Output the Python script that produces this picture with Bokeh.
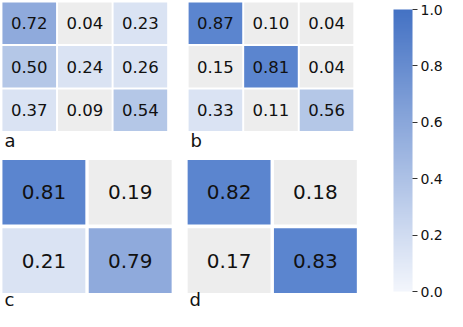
from bokeh.plotting import figure
from bokeh.models import (ColumnDataSource, Range1d, ColorBar, LinearColorMapper,
                          FixedTicker, PrintfTickFormatter)
from bokeh.embed import file_html
from bokeh.resources import INLINE

# ---- data ----
panel_names = ["a", "b", "c", "d"]
a_vals = [[0.72, 0.04, 0.23],
          [0.50, 0.24, 0.26],
          [0.37, 0.09, 0.54]]
b_vals = [[0.87, 0.10, 0.04],
          [0.15, 0.81, 0.04],
          [0.33, 0.11, 0.56]]
c_vals = [[0.81, 0.19],
          [0.21, 0.79]]
d_vals = [[0.82, 0.18],
          [0.17, 0.83]]
cbar_ticks = [0.0, 0.2, 0.4, 0.6, 0.8, 1.0]

# ---- styling / layout ----
def cell_color(v):
    if v < 0.2:
        return "#ededed"
    if v < 0.4:
        return "#dae3f3"
    if v < 0.65:
        return "#b4c7e7"
    if v < 0.8:
        return "#8faadc"
    return "#5b85cf"

# panel layout: (x0, y0, pitch_x, pitch_y, gap_x, gap_y, font, label_y)
layouts = {
    "a": (4, 4, 57.3, 44.5, 2.0, 2.0, "16.5px", 145.5),
    "b": (196, 4, 57.3, 44.5, 2.0, 2.0, "16.5px", 145.5),
    "c": (4, 165, 89.0, 70.0, 3.5, 4.0, "20px", 308.0),
    "d": (195, 165, 89.0, 70.0, 3.5, 4.0, "20px", 308.0),
}
panel_vals = {"a": a_vals, "b": b_vals, "c": c_vals, "d": d_vals}

W, H = 447, 311
p = figure(width=W, height=H, output_backend="svg", toolbar_location=None,
           x_range=Range1d(2, 463), y_range=Range1d(320, 2),
           x_axis_location=None, y_axis_location=None, min_border=0,
           outline_line_color=None)
p.xgrid.visible = False
p.ygrid.visible = False
p.background_fill_color = "white"
p.border_fill_color = "white"

for name in panel_names:
    x0, y0, px, py, gx, gy, fs, ly = layouts[name]
    vals = panel_vals[name]
    w, h = px - gx, py - gy
    xs, ys, cols, txt = [], [], [], []
    for i, row in enumerate(vals):
        for j, v in enumerate(row):
            xs.append(x0 + j * px + w / 2)
            ys.append(y0 + i * py + h / 2)
            cols.append(cell_color(v))
            txt.append(f"{v:.2f}")
    src = ColumnDataSource(dict(x=xs, y=ys, c=cols, t=txt))
    p.rect(x="x", y="y", width=w, height=h, fill_color="c", line_color=None, source=src)
    p.text(x="x", y="y", text="t", source=src, text_align="center",
           text_baseline="middle", text_font_size=fs, text_color="#111111",
           text_font={"value": "DejaVu Sans"})
    p.text(x=[x0 + 2], y=[ly], text=[name], text_align="left",
           text_baseline="middle", text_font_size="18px", text_color="#111111",
           text_font={"value": "DejaVu Sans"})

# colour bar gradient
def lerp(c1, c2, t):
    a = [int(c1[k:k + 2], 16) for k in (1, 3, 5)]
    b = [int(c2[k:k + 2], 16) for k in (1, 3, 5)]
    return "#%02x%02x%02x" % tuple(round(a[k] + (b[k] - a[k]) * t) for k in range(3))

palette = [lerp("#f3f6fc", "#4472c4", k / 255) for k in range(256)]
mapper = LinearColorMapper(palette=palette, low=0.0, high=1.0)
cb = ColorBar(color_mapper=mapper, width=19, height=282, location=(393, 20),
              padding=0, margin=0, ticker=FixedTicker(ticks=cbar_ticks),
              formatter=PrintfTickFormatter(format="%.1f"),
              major_tick_in=0, major_tick_out=5, major_tick_line_color="#333333",
              major_label_text_font_size="14px", major_label_text_color="#111111",
              major_label_text_font="DejaVu Sans", label_standoff=3,
              bar_line_color=None, background_fill_alpha=0, border_line_color=None)
p.add_layout(cb, "center")

open("out.html", "w").write(file_html(p, INLINE))
